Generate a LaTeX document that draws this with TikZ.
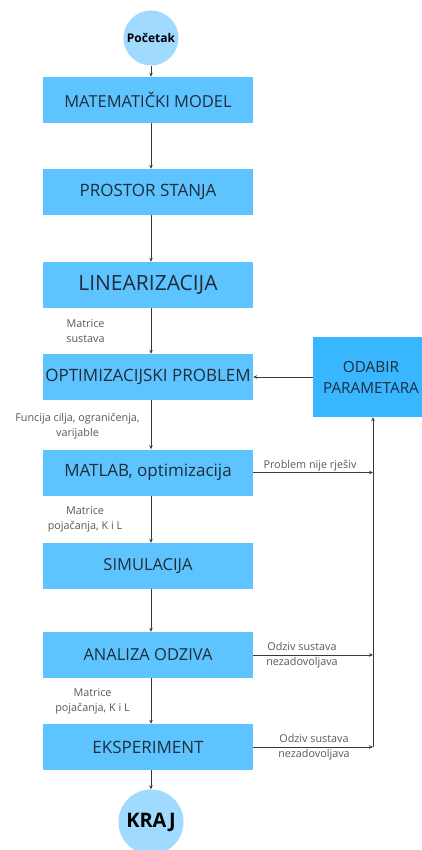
\documentclass[tikz,border=0pt]{standalone}
\usepackage{fontspec}
\setmainfont{Open Sans}
\usetikzlibrary{arrows.meta}
\definecolor{boxblue}{HTML}{5EC4FF}
\definecolor{sideblue}{HTML}{38B6FF}
\definecolor{circblue}{HTML}{A0DAFF}
\definecolor{txtdark}{HTML}{1F2D3A}
\definecolor{lblgray}{HTML}{5A5A5A}
\definecolor{linegray}{HTML}{3A3A3A}
\tikzset{
  procbox/.style={rectangle, fill=boxblue, minimum width=210pt, minimum height=46pt, inner sep=0pt, text=txtdark},
  sidebox/.style={rectangle, fill=sideblue, minimum width=116pt, minimum height=80pt, inner sep=0pt, text=txtdark, align=center},
  termcirc/.style={circle, fill=circblue, inner sep=0pt, text=black},
  lbl/.style={text=lblgray, font=\fontsize{10.8}{15}\selectfont, align=center, inner sep=0pt},
  arr/.style={draw=linegray, line width=0.8pt, -{Stealth[length=4pt,width=3.5pt]}}
}
\begin{document}
\begin{tikzpicture}[x=1pt,y=-1pt]
\clip (0,0) rectangle (422,850);
\fill[white] (0,0) rectangle (422,850);
% terminals
\node[termcirc, minimum size=55pt, font=\bfseries\fontsize{12}{14}\selectfont] (start) at (151,38) {Početak};
\node[termcirc, minimum size=65pt, font=\bfseries\fontsize{20}{24}\selectfont] (kraj) at (151,822) {KRAJ};
% process boxes
\node[procbox, font=\fontsize{16.5}{20}\selectfont] (mm) at (148,100) {MATEMATIČKI MODEL};
\node[procbox, font=\fontsize{17}{20}\selectfont] (ps) at (148,192) {PROSTOR STANJA};
\node[procbox, font=\fontsize{21}{24}\selectfont] (lin) at (148,285) {LINEARIZACIJA};
\node[procbox, font=\fontsize{17}{20}\selectfont] (opt) at (148,377) {OPTIMIZACIJSKI PROBLEM};
\node[procbox, font=\fontsize{17}{20}\selectfont] (mat) at (148,472.5) {MATLAB, optimizacija};
\node[procbox, font=\fontsize{16.5}{20}\selectfont] (sim) at (148,566) {SIMULACIJA};
\node[procbox, font=\fontsize{16.5}{20}\selectfont] (ana) at (148,655) {ANALIZA ODZIVA};
\node[procbox, font=\fontsize{17}{20}\selectfont] (eks) at (148,747) {EKSPERIMENT};
\node[sidebox, font=\fontsize{15.3}{21}\selectfont] (oda) at (371,377) {ODABIR\\PARAMETARA};
% main chain
\draw[arr] (start) -- ([xshift=3pt]mm.north);
\draw[arr] ([xshift=3pt]mm.south) -- ([xshift=3pt]ps.north);
\draw[arr] ([xshift=3pt]ps.south) -- ([xshift=3pt]lin.north);
\draw[arr] ([xshift=3pt]lin.south) -- ([xshift=3pt]opt.north);
\draw[arr] ([xshift=3pt]opt.south) -- ([xshift=3pt]mat.north);
\draw[arr] ([xshift=3pt]mat.south) -- ([xshift=3pt]sim.north);
\draw[arr] ([xshift=3pt]sim.south) -- ([xshift=3pt]ana.north);
\draw[arr] ([xshift=3pt]ana.south) -- ([xshift=3pt]eks.north);
\draw[arr] ([xshift=3pt]eks.south) -- (kraj);
% feedback
\coordinate (j3) at ([xshift=2pt]eks.east -| oda.south);
\draw[arr] (mat.east) -- ([xshift=2pt]mat.east -| oda.south);
\draw[arr] (ana.east) -- ([xshift=2pt]ana.east -| oda.south);
\draw[arr] (eks.east) -- (j3);
\draw[arr] (j3) -- ([xshift=2pt]oda.south);
\draw[arr] (oda.west) -- (opt.east);
% labels
\node[lbl] (l1) at (85.5,331) {Matrice\\sustava};
\node[lbl] (l2) at (77.5,426) {Funcija cilja, ograničenja,\\varijable};
\node[lbl] (l3) at (85,519.5) {Matrice\\pojačanja, K i L};
\node[lbl] (l4) at (92.5,701) {Matrice\\pojačanja, K i L};
\node[lbl] (l5) at (310,466) {Problem nije rješiv};
\node[lbl] (l6) at (302,655) {Odziv sustava\\nezadovoljava};
\node[lbl] (l7) at (314,747) {Odziv sustava\\nezadovoljava};
\end{tikzpicture}
\end{document}
